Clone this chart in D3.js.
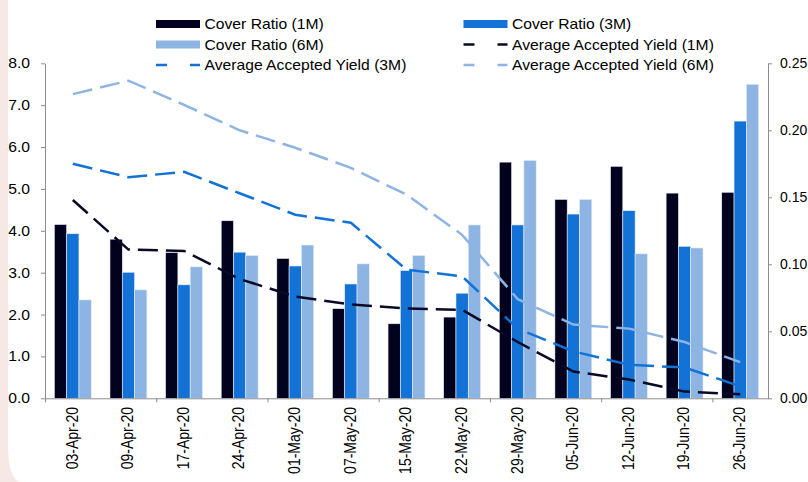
<!DOCTYPE html>
<html>
<head>
<meta charset="utf-8">
<script src="https://cdn.jsdelivr.net/npm/d3@7"></script>
<style>
  html, body { margin: 0; padding: 0; background: #f6e8e5; }
  svg { display: block; }
  text { font-family: "Liberation Sans", Arial, sans-serif; font-size: 14px; fill: #000; }
</style>
</head>
<body>
<div id="chart"></div>
<script>

// data
var dates = ["03-Apr-20", "09-Apr-20", "17-Apr-20", "24-Apr-20", "01-May-20", "07-May-20",
             "15-May-20", "22-May-20", "29-May-20", "05-Jun-20", "12-Jun-20", "19-Jun-20", "26-Jun-20"];

var cover1M = [4.15, 3.80, 3.48, 4.24, 3.34, 2.14, 1.78, 1.94, 5.64, 4.75, 5.54, 4.90, 4.92];
var cover3M = [3.93, 3.01, 2.71, 3.49, 3.16, 2.73, 3.05, 2.51, 4.14, 4.40, 4.48, 3.63, 6.62];
var cover6M = [2.35, 2.59, 3.14, 3.41, 3.66, 3.21, 3.41, 4.14, 5.68, 4.75, 3.45, 3.59, 7.50];

var yield1M = [0.148, 0.111, 0.110, 0.089, 0.076, 0.070, 0.067, 0.066, 0.042, 0.020, 0.014, 0.005, 0.003];
var yield3M = [0.175, 0.165, 0.169, 0.153, 0.137, 0.131, 0.096, 0.091, 0.052, 0.035, 0.025, 0.023, 0.009];
var yield6M = [0.227, 0.237, 0.219, 0.200, 0.187, 0.172, 0.152, 0.122, 0.074, 0.055, 0.052, 0.042, 0.027];

var leftTicks = [0, 1, 2, 3, 4, 5, 6, 7, 8];
var rightTicks = [0, 0.05, 0.10, 0.15, 0.20, 0.25];

var barSeries = [
    {name: "Cover Ratio (1M)", values: cover1M, color: "#02021f"},
    {name: "Cover Ratio (3M)", values: cover3M, color: "#1272d6"},
    {name: "Cover Ratio (6M)", values: cover6M, color: "#8db4e2"}
];
var lineSeries = [
    {name: "Average Accepted Yield (1M)", values: yield1M, color: "#0a0a26"},
    {name: "Average Accepted Yield (3M)", values: yield3M, color: "#1272d6"},
    {name: "Average Accepted Yield (6M)", values: yield6M, color: "#8db4e2"}
];

var width = 808, height = 482;
var plotLeft = 45, plotRight = 768, plotTop = 63.3, plotBottom = 398.3;
var sx = 1.12; // text in the picture is a bit wider than tall

var svg = d3.select("#chart").append("svg")
    .attr("width", width)
    .attr("height", height);

// white panel with a rounded lower-left corner over the pink page
svg.append("path")
    .attr("d", "M8,0 H808 V482 H8 V0 Z")
    .attr("fill", "#fff");
svg.append("path")
    .attr("d", "M8,448 Q9,482 22,482 H8 Z")
    .attr("fill", "#f6e8e5");

var x = d3.scaleBand()
    .domain(dates)
    .range([plotLeft, plotRight]);

var xi = d3.scaleLinear()
    .domain([0, dates.length])
    .range([plotLeft, plotRight]);

var xBar = d3.scaleBand()
    .domain(barSeries.map(function(s){ return s.name; }))
    .range([0, x.bandwidth()])
    .paddingOuter(0.76);

var yL = d3.scaleLinear().domain([0, 8]).range([plotBottom, plotTop]);
var yR = d3.scaleLinear().domain([0, 0.25]).range([plotBottom, plotTop]);

// stretch text horizontally around its own anchor
var widen = function(sel){
    sel.each(function(){
	var t = d3.select(this);
	var tx = +t.attr("x") || 0;
	t.attr("transform", "translate(" + tx + ",0) scale(" + sx + ",1) translate(" + (-tx) + ",0)");
    });
};

// bars
var groups = svg.append("g").selectAll("g")
    .data(barSeries)
    .enter().append("g")
    .attr("fill", function(s){ return s.color; });

groups.selectAll("rect")
    .data(function(s){ return s.values.map(function(v, i){ return {s: s.name, d: dates[i], v: v}; }); })
    .enter().append("rect")
    .attr("x", function(d){ return x(d.d) + xBar(d.s); })
    .attr("y", function(d){ return yL(d.v); })
    .attr("width", xBar.bandwidth())
    .attr("height", function(d){ return plotBottom - yL(d.v); })
    .attr("stroke", "#e8eef6")
    .attr("stroke-width", 0.6);

// yield lines
var line = d3.line()
    .x(function(d, i){ return x(dates[i]) + x.bandwidth() / 2; })
    .y(function(d){ return yR(d); });

svg.append("g").selectAll("path")
    .data(lineSeries)
    .enter().append("path")
    .attr("d", function(s){ return line(s.values); })
    .attr("fill", "none")
    .attr("stroke", function(s){ return s.color; })
    .attr("stroke-width", 2.5)
    .attr("stroke-dasharray", "20,8");

// axes
var styleAxis = function(g){
    g.select(".domain").attr("stroke", "#8c8c8c");
    g.selectAll(".tick line").attr("stroke", "#8c8c8c");
    g.selectAll("text").style("font-size", "14px").attr("fill", "#000");
};

var yAxisL = svg.append("g")
    .attr("transform", "translate(" + plotLeft + ",0)")
    .call(d3.axisLeft(yL).tickValues(leftTicks).tickFormat(d3.format(".1f")).tickSize(4).tickSizeOuter(0).tickPadding(11))
    .call(styleAxis);
yAxisL.selectAll("text").call(widen);

// right labels kept unstretched so they still fit inside the page
svg.append("g")
    .attr("transform", "translate(" + plotRight + ",0)")
    .call(d3.axisRight(yR).tickValues(rightTicks).tickFormat(d3.format(".2f")).tickSize(4).tickSizeOuter(0).tickPadding(8))
    .call(styleAxis);

svg.append("g")
    .attr("transform", "translate(0," + plotBottom + ")")
    .call(d3.axisBottom(xi).tickValues(d3.range(0, dates.length, 2)).tickFormat("").tickSize(4).tickSizeOuter(0))
    .call(styleAxis);

svg.append("g").selectAll("text")
    .data(dates)
    .enter().append("text")
    .attr("transform", function(d){
	return "translate(" + (x(d) + x.bandwidth() / 2 + 4.8) + ",407) rotate(-90) scale(1," + sx + ")";
    })
    .attr("text-anchor", "end")
    .text(function(d){ return d; });

// legend, two columns
var legendItems = [
    {s: barSeries[0], type: "bar"}, {s: barSeries[1], type: "bar"},
    {s: barSeries[2], type: "bar"}, {s: lineSeries[0], type: "line"},
    {s: lineSeries[1], type: "line"}, {s: lineSeries[2], type: "line"}
];
var colX = [156, 463.5];
var rowY = [24, 44.5, 65];

var legend = svg.append("g").selectAll("g")
    .data(legendItems)
    .enter().append("g")
    .attr("transform", function(d, i){ return "translate(" + colX[i % 2] + "," + rowY[Math.floor(i / 2)] + ")"; });

legend.filter(function(d){ return d.type == "bar"; })
    .append("rect")
    .attr("x", 0).attr("y", -4)
    .attr("width", 44).attr("height", 8)
    .attr("fill", function(d){ return d.s.color; });

legend.filter(function(d){ return d.type == "line"; })
    .append("line")
    .attr("x1", 0).attr("x2", 44)
    .attr("stroke", function(d){ return d.s.color; })
    .attr("stroke-width", 2.5)
    .attr("stroke-dasharray", "11,23");

legend.append("text")
    .attr("x", 48.5)
    .attr("dy", "0.36em")
    .text(function(d){ return d.s.name; })
    .call(widen);

</script>
</body>
</html>
